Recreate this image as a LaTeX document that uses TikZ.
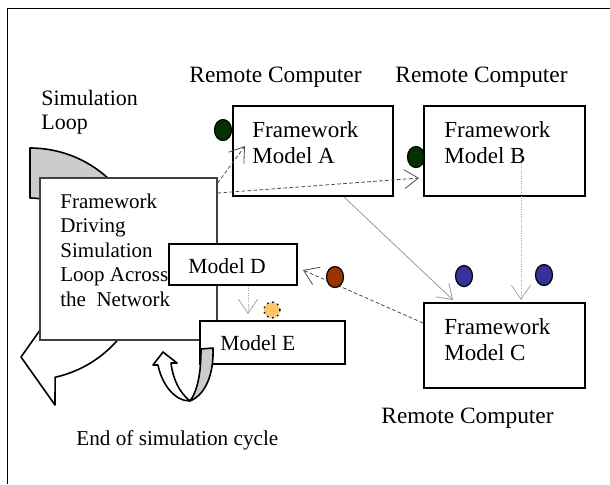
\documentclass[tikz,border=0pt]{standalone}
\usepackage{fontspec}
\setmainfont{Liberation Serif}
\usetikzlibrary{arrows.meta,calc,shapes.geometric}

\definecolor{dkgreen}{HTML}{003300}
\definecolor{rust}{HTML}{993300}
\definecolor{navy}{HTML}{333399}
\definecolor{peach}{HTML}{FFC66E}
\definecolor{shade}{HTML}{CCCCCC}

\begin{document}
\begin{tikzpicture}[
  x=0.5pt, y=-0.5pt,
  >={Straight Barb[length=7pt,width=9.5pt]},
  box/.style={draw,rectangle,line width=1pt,fill=white,anchor=north west,inner sep=0pt},
  head/.style={anchor=base west,inner sep=0pt,font=\fontsize{11.7}{14}\selectfont},
  lbl/.style={anchor=base west,align=left,inner sep=0pt,font=\fontsize{11.5}{13}\selectfont},
  body/.style={anchor=base west,align=left,inner sep=0pt,font=\fontsize{10.5}{12.25}\selectfont},
  blob/.style={draw,ellipse,line width=0.6pt,minimum width=8.5pt,minimum height=10.5pt,inner sep=0pt},
  band/.style={draw,line width=0.8pt,line join=round},
  dashlink/.style={draw=black!70,line width=0.4pt,dash pattern=on 1.8pt off 1.2pt},
  dotlink/.style={draw=black!35,line width=0.4pt,dash pattern=on 0.5pt off 0.6pt},
]
\useasboundingbox (0,0) rectangle (610,484);

% outer frame (runs off the right and bottom edges)
\draw[line width=0.9pt] (610,8.5) -- (7.5,8.5) -- (7.5,484);

%% =====================================================
%%  Simulation loop arrow, behind the driver box
%% =====================================================
\filldraw[band,fill=white] (146,264) arc[start angle=0,end angle=77.5,radius=116]
  -- (55,405) -- (21,357) -- (55,309) -- (55,325)
  arc[start angle=67.7,end angle=0,radius=66] -- cycle;
\filldraw[band,fill=shade] (30,148) arc[start angle=-90,end angle=0,radius=116]
  -- (96,264) arc[start angle=0,end angle=-90,radius=66] -- cycle;

%% =====================================================
%%  Boxes
%% =====================================================
\node[box,draw=black!75,line width=0.8pt,minimum width=88.5pt,minimum height=81pt] (drv) at (39,177) {};
\node[box,minimum width=80pt,minimum height=45pt] (mdA) at (232,105) {};
\node[box,minimum width=80.5pt,minimum height=45pt] (mdB) at (423,105) {};
\node[box,minimum width=80.5pt,minimum height=42.5pt] (mdC) at (423,302) {};
\node[box,minimum width=64pt,minimum height=20.5pt] (mdD) at (168,243) {};
\node[box,minimum width=72.5pt,minimum height=21.5pt] (mdE) at (199,320) {};

% end of cycle arrow over Model E
\filldraw[band,fill=white] (190,401) .. controls (175,401) and (162,385) .. (158,365)
  -- (153,365) -- (163,352) -- (177,363) -- (171,363)
  .. controls (173,380) and (180,393) .. (190,401) -- cycle;
\filldraw[band,fill=shade] (201,349) -- (213,348)
  .. controls (214,375) and (205,395) .. (190,401)
  .. controls (198,390) and (201,372) .. (201,349) -- cycle;

%% =====================================================
%%  Texts (multi-line nodes sit on their last baseline)
%% =====================================================
\node[head] (rc1) at (189,82) {Remote Computer};
\node[head] (rc2) at (395,82) {Remote Computer};
\node[head] (rc3) at (381,423) {Remote Computer};
\node[body,font=\fontsize{11}{12}\selectfont] (loop) at (41,129) {Simulation\\Loop};
\node[body] (tDrv) at (60,306) {Framework\\Driving\\Simulation\\Loop Across\\the\ \ Network};
\node[lbl] (tA) at (252,163) {Framework\\Model A};
\node[lbl] (tB) at (444,163) {Framework\\Model B};
\node[lbl] (tC) at (444,360) {Framework\\Model C};
\node[lbl,font=\fontsize{10.8}{13}\selectfont] (tD) at (188,273) {Model D};
\node[lbl,font=\fontsize{10.8}{13}\selectfont] (tE) at (220,350) {Model E};
\node[body,font=\fontsize{10.6}{12}\selectfont] (cyc) at (76,445) {End of simulation cycle};

%% =====================================================
%%  Links between the models
%% =====================================================
\coordinate (pA) at ($(mdA.north west)+(13,41)$);
\coordinate (pB) at ($(mdB.west)+(-4,27)$);
\draw[dashlink,->] ($(drv.north east)+(0,6)$) -- (pA);
\draw[dashlink,->] ($(drv.north east)+(0,16)$) -- (pB);
\draw[draw=black!40,line width=0.4pt,->] ($(mdA.south)+(31,0)$) -- ($(mdC.north)+(-51.5,-2)$);
\draw[dotlink,->] ($(mdB.center)+(16.5,12)$) -- ($(mdC.north)+(16.5,-2)$);
\draw[dashlink,->] ($(mdC.west)+(0,-22.5)$) -- ($(mdD.east)+(5,5.5)$);
\draw[dotlink,->] ($(mdD.south)+(15,0)$) -- ($(mdE.north)+(-24.5,-6)$);

% markers
\node[blob,fill=dkgreen] (gA) at (223,130) {};
\node[blob,fill=dkgreen] (gB) at (416,157) {};
\node[blob,fill=rust] (bD) at (335,277) {};
\node[blob,fill=navy] (nC1) at (464,276) {};
\node[blob,fill=navy] (nC2) at (544,275) {};
\node[draw,circle,dotted,line width=0.7pt,fill=peach,minimum size=8pt,inner sep=0pt] (oE) at (272,310) {};

\end{tikzpicture}
\end{document}
